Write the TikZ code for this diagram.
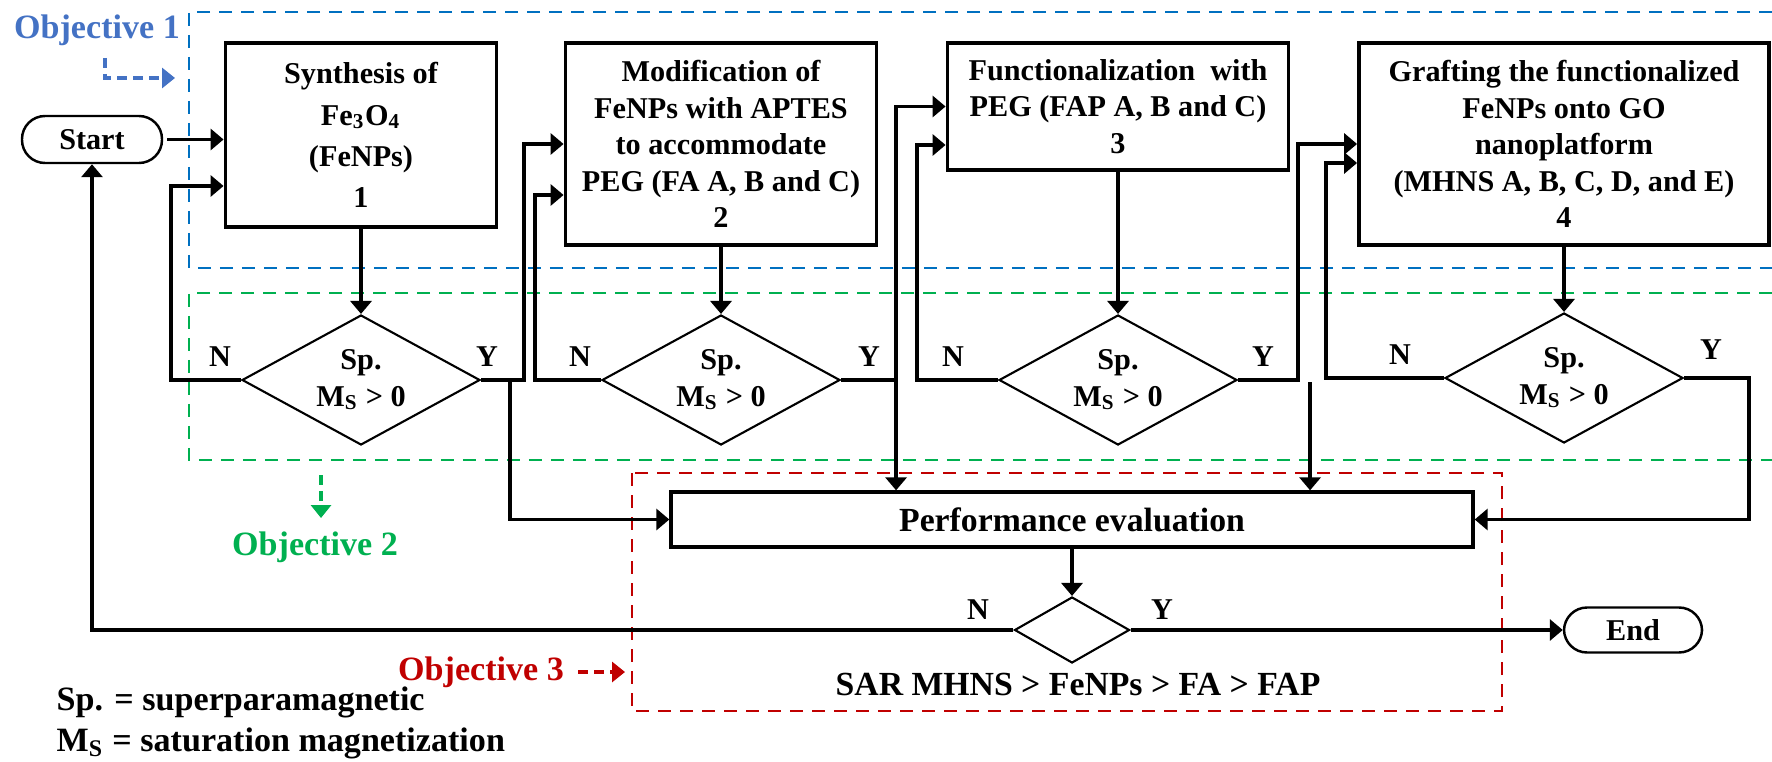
\documentclass[tikz,border=0pt]{standalone}
\usepackage{fontspec}
\setmainfont{Liberation Serif}
\usepackage{tikz}
\usetikzlibrary{arrows.meta,shapes.geometric}
\definecolor{objblue}{HTML}{4472C4}
\definecolor{frameblue}{HTML}{0070C0}
\definecolor{objgreen}{HTML}{00B050}
\definecolor{objred}{HTML}{C00000}
\newcommand{\boxfont}{\fontsize{8.6}{10.4}\selectfont\bfseries}
\newcommand{\labfont}{\fontsize{9.7}{11.6}\selectfont\bfseries}
\tikzset{
  procbox/.style={draw, line width=1.1pt, align=center, inner sep=0pt, font=\boxfont},
  decision/.style={draw, diamond, aspect=1.83, line width=0.6pt, inner sep=0pt, align=center,
    font=\boxfont, minimum width=23.8mm, minimum height=13mm},
  terminal/.style={draw, rounded corners=2.3mm, line width=0.7pt, inner sep=0pt, font=\boxfont},
  flow/.style={line width=0.95pt, -{Triangle[length=1.3mm, width=2.1mm]}},
  yn/.style={font=\boxfont, inner sep=0pt},
  objframe/.style={dash pattern=on 1.3mm off 0.9mm, line width=0.6pt},
  objarrow/.style={dash pattern=on 1mm off 0.6mm, line width=1.1pt, -{Triangle[length=1.3mm, width=2mm]}}
}

\begin{document}
\begin{tikzpicture}[x=0.1mm, y=-0.1mm]
  \useasboundingbox (0,0) rectangle (1772,762);
  \draw[objframe, frameblue] (1772,12) -| (189,268) -- (1772,268);
  \draw[objframe, objgreen] (1772,293) -| (189,460) -- (1772,460);
  \draw[objframe, objred] (632,473) rectangle (1502,711);

  \node[terminal, minimum width=14mm, minimum height=4.7mm] (start) at (92,139.5) {Start};
  \node[procbox, minimum width=27.1mm, minimum height=18.4mm, font=\fontsize{8.6}{11.7}\selectfont\bfseries]
    (synth) at (361,135) {Synthesis of\\Fe\textsubscript{3}O\textsubscript{4}\\(FeNPs)\\1};
  \node[procbox, minimum width=31.1mm, minimum height=20.2mm] (modif) at (721,144)
    {Modification of\\FeNPs with APTES\\to accommodate\\PEG (FA A, B and C)\\2};
  \node[procbox, minimum width=34.1mm, minimum height=12.7mm] (funct) at (1118,106.5)
    {Functionalization\ \ with\\PEG (FAP A, B and C)\\3};
  \node[procbox, minimum width=41mm, minimum height=20.2mm] (graft) at (1564,144)
    {Grafting the functionalized\\FeNPs onto GO\\nanoplatform\\(MHNS A, B, C, D, and E)\\4};

  \node[decision] (d1) at (361,380) {Sp.\\M\textsubscript{S} > 0};
  \node[decision] (d2) at (721,380) {Sp.\\M\textsubscript{S} > 0};
  \node[decision] (d3) at (1118,380) {Sp.\\M\textsubscript{S} > 0};
  \node[decision] (d4) at (1564,378) {Sp.\\M\textsubscript{S} > 0};

  \node[draw, line width=0.95pt, minimum width=80.2mm, minimum height=5.5mm, inner sep=0pt,
    font=\fontsize{9.6}{11}\selectfont\bfseries] (perf) at (1072,519.5) {Performance evaluation};
  \node[decision, minimum width=11.5mm, minimum height=6.6mm] (d5) at (1072,630) {};
  \node[terminal, minimum width=13.8mm, minimum height=4.5mm] (end) at (1633,630) {End};
  \node[font=\fontsize{9.6}{11}\selectfont\bfseries, inner sep=0pt] (sar) at (1078,684)
    {SAR MHNS > FeNPs > FA > FAP};

  \node[yn] (no1) at (220,357) {N};
  \node[yn] (yes1) at (487,357) {Y};
  \node[yn] (no2) at (580,357) {N};
  \node[yn] (yes2) at (869,357) {Y};
  \node[yn] (no3) at (953,357) {N};
  \node[yn] (yes3) at (1263,357) {Y};
  \node[yn] (no4) at (1400,355) {N};
  \node[yn] (yes4) at (1711,350) {Y};
  \node[yn] (no5) at (978,610) {N};
  \node[yn] (yes5) at (1162,610) {Y};

  \draw[flow, shorten <=0.4mm] (start.east) -- (start.east -| synth.west);
  \draw[flow] (synth) -- (d1);
  \draw[flow] (modif) -- (d2);
  \draw[flow] (funct) -- (d3);
  \draw[flow] (graft) -- (d4);

  \draw[flow] (d1.west) -- ++(-70,0) |- ([yshift=-5.1mm]synth.west);
  \draw[flow] (d1.east) -- ++(43,0) |- (modif.west);
  \draw[flow] (d2.west) -- ++(-66,0) |- ([yshift=-5.1mm]modif.west);
  \draw[flow] (d2.east) -- ++(55,0) |- (funct.west);
  \draw[flow] (d3.west) -- ++(-81,0) |- ([yshift=-3.85mm]funct.west);
  \draw[flow] (d3.east) -- ++(60,0) |- (graft.west);
  \draw[flow] (d4.west) -- ++(-118,0) |- ([yshift=-1.9mm]graft.west);
  \draw[flow] (d4.east) -- ++(65,0) |- (perf.east);

  \coordinate (j1) at ([xshift=2.9mm]d1.east);
  \coordinate (j2) at ([xshift=5.5mm]d2.east);
  \coordinate (j3) at ([xshift=7.2mm,yshift=-0.2mm]d3.east);
  \draw[flow] (j1) |- (perf.west);
  \draw[flow] (j2) -- (j2 |- perf.north);
  \draw[flow] (j3) -- (j3 |- perf.north);

  \draw[flow] (perf) -- (d5);
  \draw[flow] (d5.east) -- (end);
  \draw[flow] (d5.west) -| (start.south);

  \node[font=\labfont, text=objblue, inner sep=0pt] (obj1) at (97,30) {Objective 1};
  \node[font=\labfont, text=objgreen, inner sep=0pt] (obj2) at (315,547) {Objective 2};
  \node[font=\labfont, text=objred, inner sep=0pt] (obj3) at (481,672) {Objective 3};
  \coordinate (o1) at (105,58);
  \coordinate (o2) at (321,475);
  \coordinate (o3) at (578,672);
  \draw[objarrow, objblue] (o1) |- ++(70,20);
  \draw[objarrow, objgreen] (o2) -- ++(0,43);
  \draw[objarrow, objred] (o3) -- ++(47,0);

  \node[font=\labfont, anchor=west, inner sep=0pt] (legsp) at (56,702) {Sp. = superparamagnetic};
  \node[font=\labfont, anchor=west, inner sep=0pt] (legms) at (56,743) {M\textsubscript{S} = saturation magnetization};
\end{tikzpicture}
\end{document}
